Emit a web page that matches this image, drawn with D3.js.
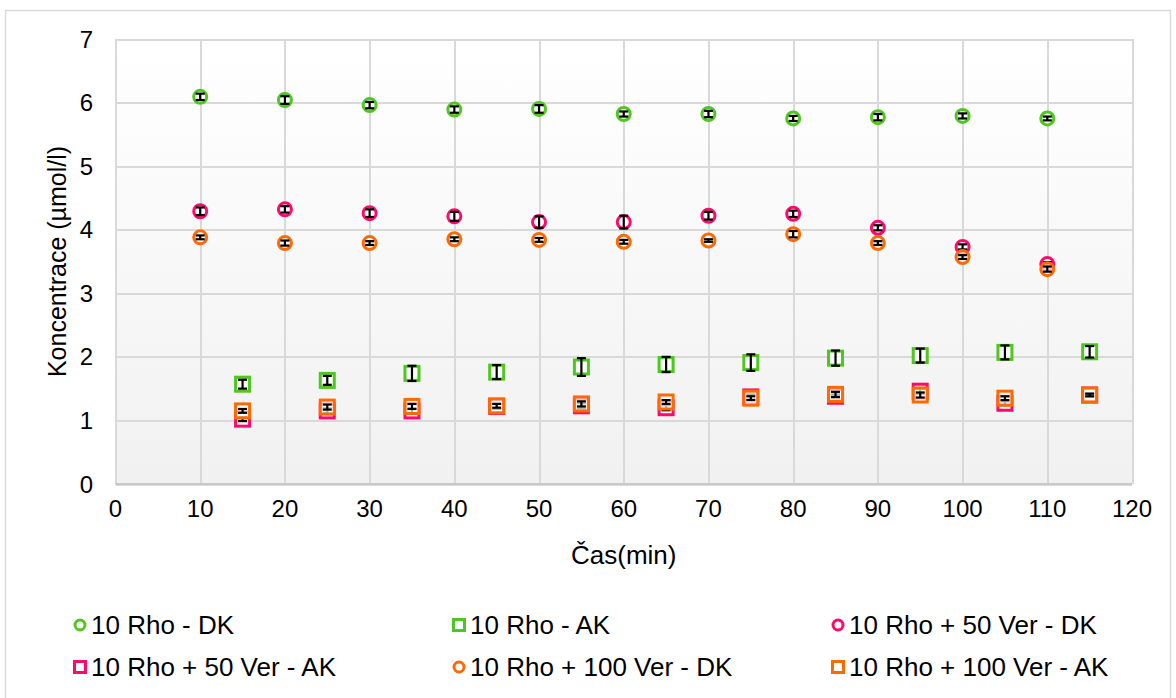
<!DOCTYPE html>
<html>
<head>
<meta charset="utf-8">
<title>Koncentrace</title>
<script src="https://d3js.org/d3.v7.min.js"></script>
<style>
body { margin: 0; background: #fff; }
svg text { font-family: "Liberation Sans", Arial, sans-serif; fill: #000; }
.grid line { stroke: #d9d9d9; stroke-width: 2px; shape-rendering: crispEdges; }
.grid path { stroke-width: 0; }
</style>
</head>
<body>
<svg width="1176" height="698"></svg>
<script>
// data
var timesDK = [10, 20, 30, 40, 50, 60, 70, 80, 90, 100, 110];
var timesAK = [15, 25, 35, 45, 55, 65, 75, 85, 95, 105, 115];

var rhoDK      = [6.09, 6.04, 5.96, 5.89, 5.90, 5.82, 5.82, 5.75, 5.77, 5.79, 5.75];
var rhoDKErr   = [0.05, 0.06, 0.05, 0.05, 0.06, 0.04, 0.05, 0.04, 0.05, 0.04, 0.03];
var rhoAK      = [1.57, 1.63, 1.74, 1.76, 1.84, 1.88, 1.91, 1.98, 2.02, 2.07, 2.08];
var rhoAKErr   = [0.07, 0.07, 0.12, 0.11, 0.14, 0.12, 0.13, 0.12, 0.11, 0.11, 0.09];
var ver50DK    = [4.29, 4.32, 4.26, 4.21, 4.12, 4.12, 4.22, 4.25, 4.03, 3.73, 3.46];
var ver50DKErr = [0.06, 0.05, 0.06, 0.07, 0.09, 0.10, 0.06, 0.05, 0.04, 0.04, 0.03];
var ver50AK    = [1.02, 1.15, 1.15, 1.22, 1.23, 1.20, 1.37, 1.38, 1.46, 1.27, 1.40];
var ver50AKErr = [0.03, 0.04, 0.04, 0.04, 0.04, 0.04, 0.04, 0.03, 0.04, 0.03, 0.03];
var ver100DK   = [3.88, 3.79, 3.79, 3.85, 3.84, 3.81, 3.83, 3.93, 3.79, 3.57, 3.38];
var ver100DKErr= [0.03, 0.04, 0.03, 0.03, 0.03, 0.03, 0.02, 0.05, 0.03, 0.03, 0.04];
var ver100AK   = [1.15, 1.21, 1.22, 1.23, 1.26, 1.29, 1.35, 1.41, 1.40, 1.35, 1.40];
var ver100AKErr= [0.03, 0.04, 0.04, 0.03, 0.04, 0.03, 0.03, 0.04, 0.04, 0.03, 0.02];

var xTicks = [0, 10, 20, 30, 40, 50, 60, 70, 80, 90, 100, 110, 120];
var yTicks = [0, 1, 2, 3, 4, 5, 6, 7];

var green = "#4ec71e", pink = "#ff0a6c", orange = "#ff6a00";

var series = [
  { name: "10 Rho - DK",             shape: "circle", color: green,  t: timesDK, v: rhoDK,    e: rhoDKErr },
  { name: "10 Rho - AK",             shape: "square", color: green,  t: timesAK, v: rhoAK,    e: rhoAKErr },
  { name: "10 Rho + 50 Ver - DK",    shape: "circle", color: pink,   t: timesDK, v: ver50DK,  e: ver50DKErr },
  { name: "10 Rho + 50 Ver - AK",    shape: "square", color: pink,   t: timesAK, v: ver50AK,  e: ver50AKErr },
  { name: "10 Rho + 100 Ver - DK",   shape: "circle", color: orange, t: timesDK, v: ver100DK, e: ver100DKErr },
  { name: "10 Rho + 100 Ver - AK",   shape: "square", color: orange, t: timesAK, v: ver100AK, e: ver100AKErr }
];

var svg = d3.select("svg");

// outer chart border
svg.append("rect")
  .attr("x", 5.5).attr("y", 10.5)
  .attr("width", 1165).attr("height", 692)
  .attr("fill", "#fff").attr("stroke", "#d9d9d9").attr("stroke-width", 1.5);

var plotL = 115.5, plotR = 1132, plotT = 39, plotB = 484;

var x = d3.scaleLinear().domain([0, 120]).range([plotL, plotR]);
var y = d3.scaleLinear().domain([0, 7]).range([plotB, plotT]);

// plot background gradient
var grad = svg.append("defs").append("linearGradient")
  .attr("id", "bg").attr("x1", 0).attr("y1", 0).attr("x2", 0).attr("y2", 1);
grad.append("stop").attr("offset", "0%").attr("stop-color", "#ffffff");
grad.append("stop").attr("offset", "100%").attr("stop-color", "#f1f1f1");

svg.append("rect")
  .attr("x", plotL).attr("y", plotT)
  .attr("width", plotR - plotL).attr("height", plotB - plotT)
  .attr("fill", "url(#bg)");

// gridlines
svg.append("g")
  .attr("class", "grid")
  .attr("transform", "translate(0," + plotB + ")")
  .call(d3.axisBottom(x).tickValues(xTicks).tickSize(-(plotB - plotT)).tickFormat(""));

svg.append("g")
  .attr("class", "grid")
  .attr("transform", "translate(" + plotL + ",0)")
  .call(d3.axisLeft(y).tickValues(yTicks).tickSize(-(plotR - plotL)).tickFormat(""));

// x axis line
svg.append("line")
  .attr("x1", plotL).attr("x2", plotR)
  .attr("y1", plotB).attr("y2", plotB)
  .attr("stroke", "#c8c8c8").attr("stroke-width", 2);

// tick labels
svg.append("g").selectAll("text")
  .data(xTicks).enter().append("text")
  .attr("x", function(d) { return x(d); })
  .attr("y", plotB + 33)
  .attr("text-anchor", "middle")
  .style("font-size", "24px")
  .text(function(d) { return d; });

svg.append("g").selectAll("text")
  .data(yTicks).enter().append("text")
  .attr("x", 93)
  .attr("y", function(d) { return y(d) + 8.5; })
  .attr("text-anchor", "end")
  .style("font-size", "24px")
  .text(function(d) { return d; });

// axis titles
svg.append("text")
  .attr("x", (plotL + plotR) / 2)
  .attr("y", 564)
  .attr("text-anchor", "middle")
  .style("font-size", "26px")
  .text("Čas(min)");

svg.append("text")
  .attr("transform", "translate(66," + ((plotT + plotB) / 2) + ") rotate(-90)")
  .attr("text-anchor", "middle")
  .style("font-size", "25px")
  .text("Koncentrace (µmol/l)");

function drawMarker(sel, shape, color, size) {
  if (shape === "circle") {
    sel.append("circle")
      .attr("r", size / 2)
      .attr("fill", "rgba(255,255,255,0.7)")
      .attr("stroke", color).attr("stroke-width", 3);
  } else {
    sel.append("rect")
      .attr("x", -size / 2).attr("y", -size / 2)
      .attr("width", size).attr("height", size)
      .attr("fill", "rgba(255,255,255,0.7)")
      .attr("stroke", color).attr("stroke-width", 3);
  }
}

// markers and error bars
series.forEach(function(s) {
  var pts = s.t.map(function(t, i) { return { t: t, v: s.v[i], e: s.e[i] }; });
  var g = svg.append("g");
  var pg = g.selectAll("g").data(pts).enter().append("g")
    .attr("transform", function(d) { return "translate(" + x(d.t) + "," + y(d.v) + ")"; });
  drawMarker(pg, s.shape, s.color, s.shape === "circle" ? 13 : 14);
  pg.append("line")
    .attr("x1", 0).attr("x2", 0)
    .attr("y1", function(d) { return y(d.v + d.e) - y(d.v); })
    .attr("y2", function(d) { return y(d.v - d.e) - y(d.v); })
    .attr("stroke", "#000").attr("stroke-width", 2.2);
  [1, -1].forEach(function(sign) {
    pg.append("line")
      .attr("x1", -4.5).attr("x2", 4.5)
      .attr("y1", function(d) { return y(d.v + sign * d.e) - y(d.v); })
      .attr("y2", function(d) { return y(d.v + sign * d.e) - y(d.v); })
      .attr("stroke", "#000").attr("stroke-width", 2.2);
  });
});

// legend
var legCols = [80, 459, 838], legRows = [625, 667];
series.forEach(function(s, i) {
  var lg = svg.append("g")
    .attr("transform", "translate(" + legCols[i % 3] + "," + legRows[Math.floor(i / 3)] + ")");
  drawMarker(lg, s.shape, s.color, s.shape === "circle" ? 10 : 11);
  lg.append("text")
    .attr("x", 11).attr("y", 9)
    .style("font-size", "26px")
    .text(s.name);
});
</script>
</body>
</html>
